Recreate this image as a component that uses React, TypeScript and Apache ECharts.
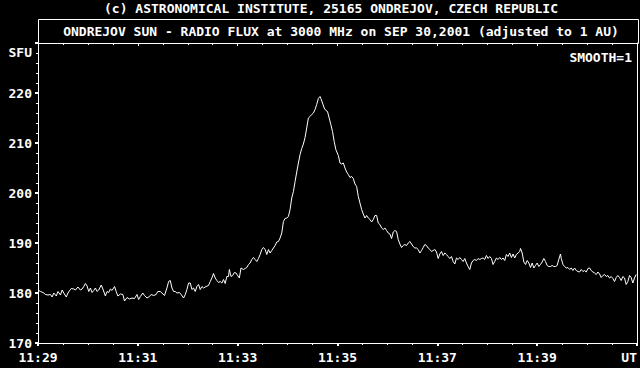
import React, { useEffect, useRef } from "react";
import * as echarts from "echarts";

// seconds after 11:29:00 UT
const times = [
  1, 3, 6, 9, 12, 15, 17, 19, 22, 24, 27, 29, 31, 34, 36, 38, 40, 43, 45, 48,
  51, 53, 55, 57, 59, 61, 63, 65, 67, 69, 71, 73, 76, 78, 81, 83, 85, 87, 89, 92,
  94, 96, 99, 102, 104, 107, 110, 113, 116, 119, 121, 123, 126, 128, 131, 134, 136, 139, 142, 144,
  147, 149, 152, 155, 157, 159, 161, 163, 165, 167, 170, 172, 175, 177, 179, 181, 183, 185, 187, 189,
  191, 193, 195, 197, 199, 202, 205, 207, 209, 211, 213, 215, 217, 219, 221, 223, 225, 227, 229, 230,
  232, 234, 236, 238, 242, 244, 247, 249, 251, 253, 255, 257, 259, 261, 263, 265, 267, 269, 271, 273,
  275, 277, 279, 281, 283, 285, 287, 289, 291, 293, 295, 297, 299, 301, 303, 305, 307, 309, 311, 313,
  315, 317, 319, 321, 323, 325, 327, 329, 331, 333, 335, 337, 339, 340, 342, 344, 346, 348, 350, 352,
  354, 356, 358, 361, 363, 365, 367, 369, 371, 373, 375, 377, 379, 381, 383, 385, 387, 389, 391, 393,
  395, 397, 399, 401, 403, 405, 407, 409, 411, 413, 415, 417, 419, 421, 423, 425, 427, 429, 431, 433,
  435, 437, 439, 441, 443, 445, 447, 449, 451, 453, 455, 457, 459, 461, 463, 465, 467, 469, 471, 473,
  475, 477, 479, 481, 483, 485, 487, 489, 491, 493, 495, 497, 499, 501, 503, 505, 507, 509, 511, 513,
  515, 517, 519, 521, 523, 525, 527, 529, 531, 533, 535, 537, 539, 541, 543, 545, 547, 549, 551, 553,
  555, 557, 559, 561, 563, 565, 567, 569, 571, 573, 575, 577, 579, 580, 582, 584, 586, 588, 590, 592,
  594, 596, 598, 600, 602, 604, 606, 608, 610, 612, 614, 616, 618, 620, 622, 624, 626, 628, 629, 631,
  633, 635, 637, 639, 641, 643, 645, 647, 649, 651, 653, 655, 657, 659, 661, 663, 665, 667, 669, 671,
  673, 675, 677, 679, 681, 683, 685, 687, 689, 691, 693, 695, 697, 699, 701, 703, 705, 707, 709, 711,
  713, 715, 717, 719,
];

// radio flux, SFU
const flux = [
  180.5, 180.3, 180.1, 179.7, 179.6, 179.7, 179.2, 180.0, 179.4, 180.3, 179.6, 180.6, 180.0, 179.2, 180.0, 180.5, 180.9, 180.8, 180.6, 181.2,
  180.6, 180.8, 181.3, 181.9, 181.4, 180.3, 181.0, 180.1, 180.5, 181.0, 180.3, 180.6, 181.6, 180.8, 179.4, 180.3, 180.1, 180.8, 180.5, 181.3,
  180.3, 179.4, 179.8, 179.7, 178.4, 179.1, 178.8, 179.0, 178.9, 179.7, 178.7, 179.3, 180.0, 179.5, 179.0, 179.3, 179.7, 179.5, 179.7, 180.3,
  180.3, 180.0, 179.5, 181.0, 182.3, 182.5, 181.0, 180.3, 180.3, 180.0, 180.1, 179.7, 179.0, 179.7, 180.7, 182.0, 182.0, 180.7, 181.0, 180.3,
  181.3, 181.7, 180.7, 181.3, 181.0, 181.3, 181.5, 182.3, 183.0, 183.9, 183.0, 182.5, 182.1, 182.3, 182.0, 182.7, 181.9, 183.3, 183.3, 184.7,
  183.3, 183.5, 184.1, 184.0, 183.0, 185.0, 184.7, 184.9, 185.1, 185.7, 186.0, 186.7, 187.1, 186.7, 186.3, 186.9, 187.7, 188.7, 189.1, 188.7,
  187.7, 188.7, 188.0, 188.5, 189.0, 189.5, 190.2, 190.3, 191.0, 192.0, 194.3, 194.9, 195.0, 195.3, 196.7, 199.0, 200.3, 202.3, 204.2, 206.0,
  207.7, 208.9, 209.8, 211.1, 213.0, 215.0, 215.3, 215.7, 216.0, 216.7, 217.7, 218.9, 219.3, 218.9, 218.0, 217.0, 216.5, 216.3, 215.0, 213.7,
  212.3, 210.3, 208.7, 207.5, 206.0, 205.8, 206.0, 205.0, 204.2, 203.7, 203.1, 203.3, 202.9, 201.8, 201.3, 199.3, 198.0, 196.7, 195.8, 195.0,
  195.5, 195.0, 194.7, 194.2, 194.7, 195.5, 195.5, 194.0, 193.7, 193.0, 192.7, 193.0, 192.5, 192.0, 191.8, 190.9, 192.2, 192.5, 192.3, 190.7,
  189.8, 189.1, 189.5, 189.7, 189.5, 190.0, 190.3, 189.8, 189.3, 189.0, 189.0, 188.7, 188.0, 188.5, 189.1, 189.7, 189.5, 189.0, 188.7, 188.3,
  188.5, 188.7, 188.2, 186.9, 187.8, 188.3, 187.5, 188.0, 187.7, 187.3, 186.9, 187.3, 186.3, 185.8, 187.0, 186.7, 187.1, 186.7, 186.3, 186.9,
  186.0, 185.3, 184.7, 186.0, 186.5, 186.7, 186.5, 186.9, 186.7, 186.9, 187.0, 186.7, 187.5, 186.9, 187.3, 186.9, 185.7, 186.3, 187.0, 186.7,
  187.1, 186.7, 187.0, 186.5, 187.7, 187.3, 188.0, 187.1, 187.8, 187.0, 187.7, 188.0, 188.3, 188.9, 188.0, 186.2, 185.7, 186.5, 186.0, 185.1,
  186.0, 185.0, 185.5, 186.0, 185.3, 185.7, 186.2, 186.9, 186.3, 185.5, 185.3, 185.3, 185.5, 185.3, 185.3, 185.5, 186.7, 187.8, 186.9, 185.7,
  185.3, 185.0, 185.1, 184.7, 185.0, 184.5, 185.0, 184.5, 184.3, 184.2, 184.7, 184.3, 184.5, 184.2, 184.9, 185.0, 184.5, 184.2, 184.0, 183.7,
  184.2, 183.8, 183.1, 183.5, 183.7, 183.3, 183.5, 183.0, 183.3, 182.9, 182.3, 183.1, 183.5, 183.1, 182.5, 183.3, 183.0, 181.7, 182.3, 183.5,
  183.1, 182.0, 183.0, 183.7,
];

const yTicks = [170, 180, 190, 200, 210, 220];
const xTickLabels = ["11:29", "11:31", "11:33", "11:35", "11:37", "11:39", "UT"];

const TITLE = "(c) ASTRONOMICAL INSTITUTE, 25165 ONDREJOV, CZECH REPUBLIC";
const SUBTITLE = "ONDREJOV SUN - RADIO FLUX at 3000 MHz on SEP 30,2001 (adjusted to 1 AU)";
const FONT = "DejaVu Sans Mono";

export default function App() {
  const ref = useRef<HTMLDivElement>(null);
  useEffect(() => {
    if (!ref.current) return;
    const chart = echarts.init(ref.current, null, { renderer: "svg" });
    const textStyle = { color: "#fff", fontFamily: FONT, fontSize: 13, fontWeight: "bold" as const };
    chart.setOption({
      animation: false,
      backgroundColor: "#000",
      grid: { left: 38, top: 43, width: 600, height: 300, containLabel: false },
      xAxis: [
        {
          type: "value",
          min: 0,
          max: 720,
          interval: 120,
          axisLine: { show: true, onZero: false, lineStyle: { color: "#fff", width: 1 } },
          axisTick: { show: true, length: 3, lineStyle: { color: "#fff", width: 2 } },
          minorTick: { show: true, splitNumber: 4, length: 2, lineStyle: { color: "#fff", width: 1 } },
          splitLine: { show: false },
          axisLabel: {
            ...textStyle,
            margin: 8,
            alignMaxLabel: "right",
            formatter: (v: number) => xTickLabels[Math.round(v / 120)] ?? "",
          },
        },
        {
          type: "value",
          position: "top",
          min: 0,
          max: 720,
          interval: 120,
          axisLine: { show: true, onZero: false, lineStyle: { color: "#fff", width: 1 } },
          axisTick: { show: true, inside: true, length: 3, lineStyle: { color: "#fff", width: 1 } },
          minorTick: { show: true, splitNumber: 4, length: 2, lineStyle: { color: "#fff", width: 1 } },
          splitLine: { show: false },
          axisLabel: { show: false },
        },
      ],
      yAxis: [
        {
          type: "value",
          min: 170,
          max: 230,
          interval: 10,
          axisLine: { show: true, onZero: false, lineStyle: { color: "#fff", width: 1 } },
          axisTick: { show: true, length: 3, lineStyle: { color: "#fff", width: 2 } },
          minorTick: { show: true, splitNumber: 5, length: 2, lineStyle: { color: "#fff", width: 1 } },
          splitLine: { show: false },
          axisLabel: {
            ...textStyle,
            margin: 6,
            formatter: (v: number) => (yTicks.includes(v) ? String(v) : ""),
          },
        },
        {
          type: "value",
          position: "right",
          min: 170,
          max: 230,
          interval: 10,
          axisLine: { show: true, onZero: false, lineStyle: { color: "#fff", width: 1 } },
          axisTick: { show: false },
          splitLine: { show: false },
          axisLabel: { show: false },
        },
      ],
      graphic: [
        {
          type: "text",
          x: 331,
          y: 8,
          style: { text: TITLE, fill: "#fff", font: `bold 13px "${FONT}"`, textAlign: "center", textVerticalAlign: "middle" },
        },
        {
          type: "rect",
          shape: { x: 38.5, y: 19.5, width: 600, height: 24 },
          style: { fill: "none", stroke: "#fff", lineWidth: 1 },
        },
        {
          type: "text",
          x: 341,
          y: 31,
          style: { text: SUBTITLE, fill: "#fff", font: `bold 13px "${FONT}"`, textAlign: "center", textVerticalAlign: "middle" },
        },
        {
          type: "text",
          x: 32,
          y: 52,
          style: { text: "SFU", fill: "#fff", font: `bold 13px "${FONT}"`, textAlign: "right", textVerticalAlign: "middle" },
        },
        {
          type: "text",
          x: 632,
          y: 57,
          style: { text: "SMOOTH=1", fill: "#fff", font: `bold 13px "${FONT}"`, textAlign: "right", textVerticalAlign: "middle" },
        },
      ],
      series: [
        {
          type: "line",
          xAxisIndex: 0,
          yAxisIndex: 0,
          data: times.map((t, i) => [t, flux[i]]),
          showSymbol: false,
          symbol: "none",
          lineStyle: { color: "#fff", width: 1 },
        },
      ],
    });
    return () => chart.dispose();
  }, []);
  return (
    <div
      ref={ref}
      style={{ position: "fixed", left: 0, top: 0, width: 640, height: 368, background: "#000" }}
    />
  );
}
